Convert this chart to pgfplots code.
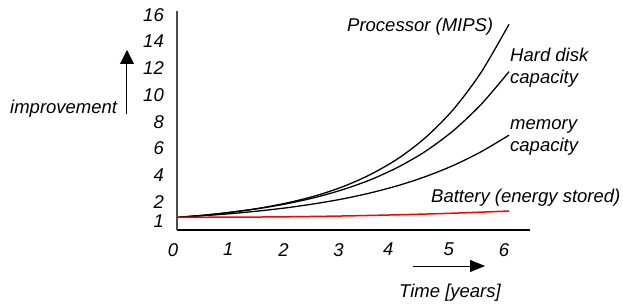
\documentclass[border=0pt]{standalone}
\usepackage{fontspec}
\setmainfont{Liberation Sans}
\usepackage{pgfplots}
\pgfplotsset{compat=1.18}
\usetikzlibrary{arrows.meta}
\newcommand{\lf}{\fontsize{18.5bp}{22bp}\selectfont\itshape}
\begin{document}
\begin{tikzpicture}
\begin{axis}[
  name=ax, at={(0,0)}, anchor=south west,
  scale only axis, width=353bp, height=219bp,
  xmin=-0.02, xmax=6.38, ymin=-0.1, ymax=16.29,
  axis x line=bottom, axis y line=left,
  x axis line style={-, black, line width=1.2bp},
  y axis line style={-, black!70, line width=1.6bp},
  major tick length=0pt,
  xtick={0,1,2,3,3.9,5,6}, xticklabels={0,1,2,3,4,5,6},
  ytick={0.57,2,4,6,8,10,12,14,16}, yticklabels={1,2,4,6,8,10,12,14,16},
  xticklabel style={font=\lf, anchor=north, inner sep=0pt, yshift=-13bp, xshift=-5bp},
  yticklabel style={font=\lf, anchor=east, inner sep=0pt, xshift=-13bp},
  clip=false,
]
% Processor (MIPS)
\addplot[black, line width=1.3bp, smooth] coordinates {
(0,0.85) (0.5,1.02) (1,1.25) (1.5,1.55) (2,1.95) (2.5,2.47) (3,3.16) (3.5,4.08) (4,5.28) (4.5,6.87) (5,8.97) (5.5,11.74) (6,15.3)};
% Hard disk capacity
\addplot[black, line width=1.3bp, smooth] coordinates {
(0,0.85) (0.5,1.02) (1,1.25) (1.5,1.53) (2,1.89) (2.5,2.35) (3,2.94) (3.5,3.68) (4,4.63) (4.5,5.83) (5,7.37) (5.5,9.33) (6,11.75)};
% memory capacity
\addplot[black, line width=1.3bp, smooth] coordinates {
(0,0.85) (0.5,0.98) (1,1.14) (1.5,1.34) (2,1.58) (2.5,1.88) (3,2.24) (3.5,2.69) (4,3.24) (4.5,3.92) (5,4.75) (5.5,5.77) (6,7.0)};
% Battery (energy stored)
\addplot[red, line width=1.5bp, smooth] coordinates {
(0,0.85) (1,0.86) (2,0.89) (3,0.95) (4,1.04) (5,1.16) (6,1.32)};
\end{axis}
\begin{scope}[x=1bp,y=1bp, font=\lf]
\node[anchor=base west, inner sep=0pt] at (-167,117) {improvement};
\draw[line width=1bp, -{Triangle[width=14bp,length=14bp]}] (-50,116) -- (-50,180);
\node[anchor=base west, inner sep=0pt] at (222,-67) {Time [years]};
\draw[line width=1bp, -{Triangle[width=12bp,length=15bp]}] (236,-36) -- (308,-36);
\node[anchor=base west, inner sep=0pt] at (170,199) {Processor (MIPS)};
\node[anchor=base west, inner sep=0pt] at (333,169) {Hard disk};
\node[anchor=base west, inner sep=0pt] at (333,147) {capacity};
\node[anchor=base west, inner sep=0pt] at (333,101) {memory};
\node[anchor=base west, inner sep=0pt] at (333,79) {capacity};
\node[anchor=base west, inner sep=0pt] at (254,28) {Battery (energy stored)};
\end{scope}
\pgfresetboundingbox
\path[use as bounding box] (-177bp,-74bp) rectangle (446bp,230bp);
\end{tikzpicture}
\end{document}
